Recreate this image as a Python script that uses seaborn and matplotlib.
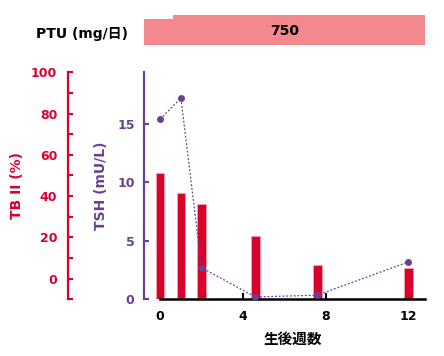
import matplotlib
matplotlib.use("Agg")
import matplotlib.pyplot as plt
import seaborn as sns
import pandas as pd

# data
bar_weeks = [0, 1, 2, 4.6, 7.6, 12]
tbii_values = [51.4, 41.6, 36.1, 20.7, 6.6, 5.2]
tsh_weeks = [0, 1, 2, 4.6, 7.6, 12]
tsh_values = [15.4, 17.2, 2.7, 0.2, 0.35, 3.2]
x_ticks = [0, 4, 8, 12]
tbii_major = [0, 20, 40, 60, 80, 100]
tsh_major = [0, 5, 10, 15]
ptu_label = "750"

RED = "#dc002d"
PURPLE = "#6a4192"
PINK = "#f3888f"

sns.set_theme(style="white")
plt.rcParams["font.family"] = ["DejaVu Sans", "Noto Sans CJK JP"]
plt.rcParams["font.weight"] = "bold"
CJK = ["Noto Sans CJK JP", "DejaVu Sans"]

fig = plt.figure(figsize=(4.44, 3.56), dpi=100)
pos = [0.325, 0.1593, 0.6322, 0.6376]
xlim = (-0.77, 12.8)

# TB II axis (bars) - also carries the shared x axis
ax_tb = fig.add_axes(pos)
tb_bottom = -9.8
ax_tb.bar(bar_weeks, [v - tb_bottom for v in tbii_values], bottom=tb_bottom,
          width=0.4, color=RED, edgecolor="#f5a3ab", linewidth=0.6, zorder=2)
ax_tb.set_xlim(*xlim)
ax_tb.set_ylim(tb_bottom, 100)
ax_tb.set_yticks(tbii_major)
ax_tb.set_yticks(range(-10, 100, 10), minor=True)
ax_tb.set_yticklabels([str(v) for v in tbii_major])
ax_tb.set_xticks(x_ticks)
ax_tb.set_xticklabels([str(v) for v in x_ticks])

# TSH axis (line)
ax_tsh = ax_tb.twinx()
ax_tsh.yaxis.tick_left()
ax_tsh.yaxis.set_label_position("left")
df = pd.DataFrame({"week": tsh_weeks, "tsh": tsh_values})
sns.lineplot(data=df, x="week", y="tsh", ax=ax_tsh, color=PURPLE, linewidth=0.9,
             linestyle=(0, (1.5, 1.5)), marker="o", markersize=5,
             markeredgewidth=0, zorder=3)
ax_tsh.set_xlim(*xlim)
ax_tsh.set_ylim(0, 19.4)
ax_tsh.set_yticks(tsh_major)
ax_tsh.set_yticklabels([str(v) for v in tsh_major])
ax_tsh.tick_params(axis="y", direction="in", length=3.5, width=1.5, color=PURPLE,
                   labelcolor=PURPLE, labelsize=9, pad=7, left=True, right=False,
                   labelleft=True, labelright=False)
ax_tsh.spines["left"].set_visible(True)
ax_tsh.spines["left"].set_color(PURPLE)
ax_tsh.spines["left"].set_linewidth(1.6)
for s in ["top", "right", "bottom"]:
    ax_tsh.spines[s].set_visible(False)
ax_tsh.set_xlabel("")
ax_tsh.set_ylabel("TSH (mU/L)", color=PURPLE, fontsize=10, fontweight="bold")
ax_tsh.yaxis.set_label_coords(-0.129, 0.5)

# style TB II axis after twinx (twinx resets tick sides)
ax_tb.tick_params(axis="y", which="both", direction="in", length=3.5, width=1.5,
                  color=RED, labelcolor=RED, labelsize=9, pad=8,
                  left=True, right=False, labelleft=True, labelright=False)
ax_tb.tick_params(axis="x", direction="in", length=4, width=1.5, color="black",
                  labelcolor="black", labelsize=9, pad=8, bottom=True)
ax_tb.spines["left"].set_position(("outward", 54.7))
ax_tb.spines["left"].set_color(RED)
ax_tb.spines["left"].set_linewidth(1.6)
ax_tb.spines["bottom"].set_visible(True)
ax_tb.spines["bottom"].set_color("black")
ax_tb.spines["bottom"].set_linewidth(1.8)
ax_tb.spines["bottom"].set_bounds(0, xlim[1])
for s in ["top", "right"]:
    ax_tb.spines[s].set_visible(False)
ax_tb.set_ylabel("TB II (%)", color=RED, fontsize=10, fontweight="bold")
ax_tb.yaxis.set_label_coords(-0.428, 0.5)

fig.text(293 / 444, 1 - 339 / 356, "生後週数", ha="center", va="center",
         fontsize=10.5, fontweight="bold", color="black", family=CJK)

# PTU dose band
ax_top = fig.add_axes([0.325, 1 - 45 / 356, 0.6322, 30.3 / 356])
ax_top.set_xlim(*xlim)
ax_top.set_ylim(0, 1)
ax_top.bar([xlim[0]], [0.848], width=0.6 - xlim[0], align="edge", color=PINK, linewidth=0)
ax_top.bar([0.6], [1.0], width=xlim[1] - 0.6, align="edge", color=PINK, linewidth=0)
ax_top.text((xlim[0] + xlim[1]) / 2, 0.45, ptu_label, ha="center", va="center",
            fontsize=10, fontweight="bold", color="black")
ax_top.axis("off")

fig.text(128 / 444, 1 - 34 / 356, "PTU (mg/日)", ha="right", va="center",
         fontsize=10, fontweight="bold", color="black")

fig.savefig("out.png", dpi=100)
